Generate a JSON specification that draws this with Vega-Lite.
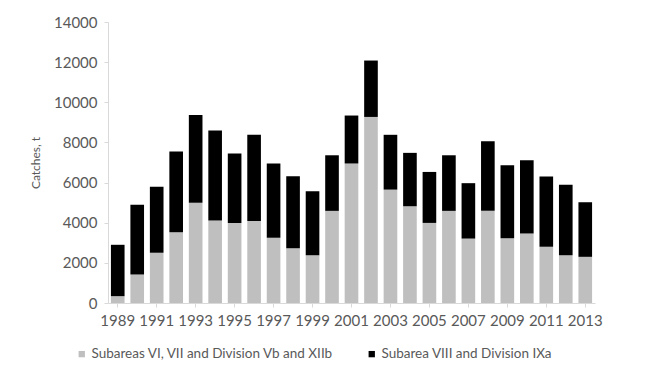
{
  "$schema": "https://vega.github.io/schema/vega-lite/v6.json",
  "width": 487,
  "height": 281,
  "autosize": {"type": "none"},
  "padding": {"left": 108, "top": 22, "right": 56, "bottom": 71},
  "background": "white",
  "config": {
    "view": {"stroke": null},
    "font": "Lato",
    "axis": {"labelColor": "#595959", "titleColor": "#595959", "domainColor": "#d9d9d9", "tickColor": "#d9d9d9", "grid": false, "labelFont": "Lato", "titleFont": "Lato"},
    "legend": {"labelColor": "#595959", "labelFont": "Lato"}
  },
  "data": {
    "values": [
      {"year": 1989, "series": "Subareas VI, VII and Division Vb and XIIb", "catch": 340},
      {"year": 1989, "series": "Subarea VIII and Division IXa", "catch": 2560},
      {"year": 1990, "series": "Subareas VI, VII and Division Vb and XIIb", "catch": 1420},
      {"year": 1990, "series": "Subarea VIII and Division IXa", "catch": 3480},
      {"year": 1991, "series": "Subareas VI, VII and Division Vb and XIIb", "catch": 2500},
      {"year": 1991, "series": "Subarea VIII and Division IXa", "catch": 3290},
      {"year": 1992, "series": "Subareas VI, VII and Division Vb and XIIb", "catch": 3530},
      {"year": 1992, "series": "Subarea VIII and Division IXa", "catch": 4020},
      {"year": 1993, "series": "Subareas VI, VII and Division Vb and XIIb", "catch": 4990},
      {"year": 1993, "series": "Subarea VIII and Division IXa", "catch": 4380},
      {"year": 1994, "series": "Subareas VI, VII and Division Vb and XIIb", "catch": 4110},
      {"year": 1994, "series": "Subarea VIII and Division IXa", "catch": 4490},
      {"year": 1995, "series": "Subareas VI, VII and Division Vb and XIIb", "catch": 3990},
      {"year": 1995, "series": "Subarea VIII and Division IXa", "catch": 3460},
      {"year": 1996, "series": "Subareas VI, VII and Division Vb and XIIb", "catch": 4080},
      {"year": 1996, "series": "Subarea VIII and Division IXa", "catch": 4300},
      {"year": 1997, "series": "Subareas VI, VII and Division Vb and XIIb", "catch": 3250},
      {"year": 1997, "series": "Subarea VIII and Division IXa", "catch": 3700},
      {"year": 1998, "series": "Subareas VI, VII and Division Vb and XIIb", "catch": 2730},
      {"year": 1998, "series": "Subarea VIII and Division IXa", "catch": 3590},
      {"year": 1999, "series": "Subareas VI, VII and Division Vb and XIIb", "catch": 2380},
      {"year": 1999, "series": "Subarea VIII and Division IXa", "catch": 3190},
      {"year": 2000, "series": "Subareas VI, VII and Division Vb and XIIb", "catch": 4590},
      {"year": 2000, "series": "Subarea VIII and Division IXa", "catch": 2770},
      {"year": 2001, "series": "Subareas VI, VII and Division Vb and XIIb", "catch": 6950},
      {"year": 2001, "series": "Subarea VIII and Division IXa", "catch": 2390},
      {"year": 2002, "series": "Subareas VI, VII and Division Vb and XIIb", "catch": 9270},
      {"year": 2002, "series": "Subarea VIII and Division IXa", "catch": 2810},
      {"year": 2003, "series": "Subareas VI, VII and Division Vb and XIIb", "catch": 5650},
      {"year": 2003, "series": "Subarea VIII and Division IXa", "catch": 2730},
      {"year": 2004, "series": "Subareas VI, VII and Division Vb and XIIb", "catch": 4820},
      {"year": 2004, "series": "Subarea VIII and Division IXa", "catch": 2660},
      {"year": 2005, "series": "Subareas VI, VII and Division Vb and XIIb", "catch": 3990},
      {"year": 2005, "series": "Subarea VIII and Division IXa", "catch": 2540},
      {"year": 2006, "series": "Subareas VI, VII and Division Vb and XIIb", "catch": 4590},
      {"year": 2006, "series": "Subarea VIII and Division IXa", "catch": 2770},
      {"year": 2007, "series": "Subareas VI, VII and Division Vb and XIIb", "catch": 3210},
      {"year": 2007, "series": "Subarea VIII and Division IXa", "catch": 2760},
      {"year": 2008, "series": "Subareas VI, VII and Division Vb and XIIb", "catch": 4590},
      {"year": 2008, "series": "Subarea VIII and Division IXa", "catch": 3470},
      {"year": 2009, "series": "Subareas VI, VII and Division Vb and XIIb", "catch": 3230},
      {"year": 2009, "series": "Subarea VIII and Division IXa", "catch": 3630},
      {"year": 2010, "series": "Subareas VI, VII and Division Vb and XIIb", "catch": 3460},
      {"year": 2010, "series": "Subarea VIII and Division IXa", "catch": 3650},
      {"year": 2011, "series": "Subareas VI, VII and Division Vb and XIIb", "catch": 2800},
      {"year": 2011, "series": "Subarea VIII and Division IXa", "catch": 3500},
      {"year": 2012, "series": "Subareas VI, VII and Division Vb and XIIb", "catch": 2380},
      {"year": 2012, "series": "Subarea VIII and Division IXa", "catch": 3510},
      {"year": 2013, "series": "Subareas VI, VII and Division Vb and XIIb", "catch": 2300},
      {"year": 2013, "series": "Subarea VIII and Division IXa", "catch": 2720}
    ]
  },
  "mark": {"type": "bar"},
  "encoding": {
    "x": {
      "field": "year",
      "type": "ordinal",
      "scale": {"paddingInner": 0.3, "paddingOuter": 0.15},
      "axis": {
        "title": null,
        "labelAngle": 0,
        "values": [1989, 1991, 1993, 1995, 1997, 1999, 2001, 2003, 2005, 2007, 2009, 2011, 2013],
        "labelFontSize": 15,
        "labelPadding": 6,
        "tickSize": 4,
        "ticks": true
      }
    },
    "y": {
      "field": "catch",
      "type": "quantitative",
      "stack": "zero",
      "scale": {"domain": [0, 14000], "nice": false},
      "axis": {
        "title": "Catches, t",
        "titleFontSize": 12,
        "titleFontWeight": "normal",
        "titlePadding": 11,
        "values": [0, 2000, 4000, 6000, 8000, 10000, 12000, 14000],
        "format": "d",
        "labelFontSize": 15,
        "labelPadding": 7,
        "tickSize": 4
      }
    },
    "color": {
      "field": "series",
      "type": "nominal",
      "scale": {
        "domain": ["Subareas VI, VII and Division Vb and XIIb", "Subarea VIII and Division IXa"],
        "range": ["#bfbfbf", "#000000"]
      },
      "legend": {
        "title": null,
        "orient": "none",
        "direction": "horizontal",
        "legendX": -33,
        "legendY": 325,
        "symbolType": "square",
        "symbolSize": 40,
        "symbolStrokeWidth": 0,
        "labelFontSize": 13.5,
        "labelOffset": 3,
        "columnPadding": 31,
        "labelLimit": 400
      }
    },
    "order": {"field": "series", "sort": "descending"}
  }
}
